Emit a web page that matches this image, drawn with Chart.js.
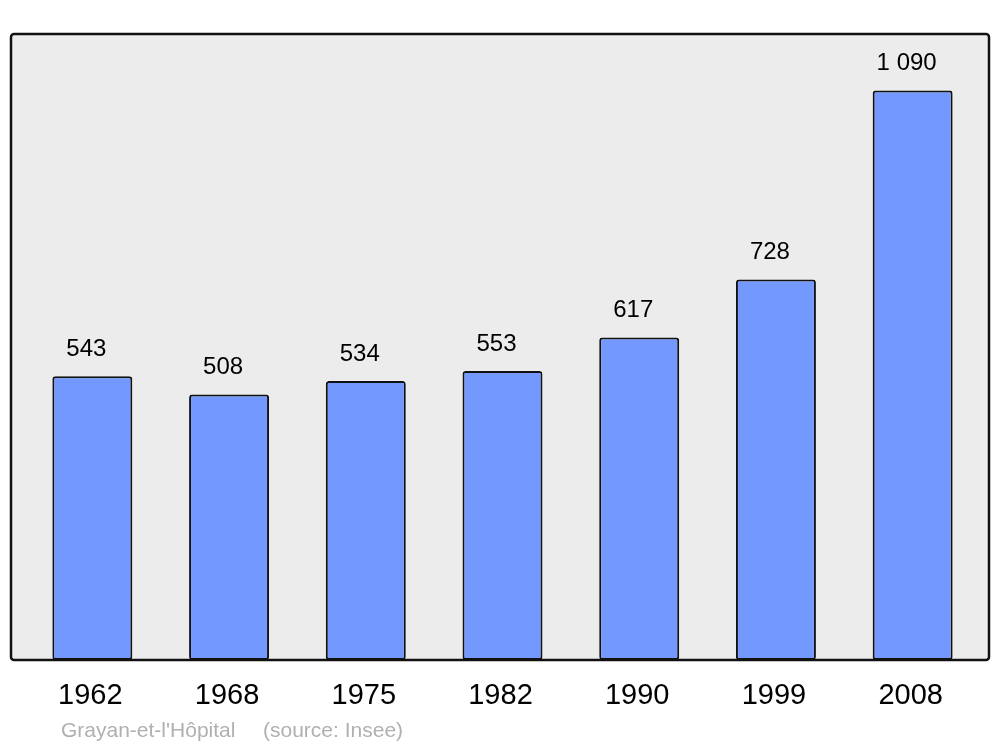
<!DOCTYPE html>
<html>
<head>
<meta charset="utf-8">
<script src="https://cdn.jsdelivr.net/npm/chart.js@4"></script>
<style>
  body { margin: 0; background: #fff; }
  #wrap { width: 1000px; height: 747px; }
</style>
</head>
<body>
<div id="wrap"><canvas id="popChart" width="1000" height="747"></canvas></div>
<script>
let years = ['1962', '1968', '1975', '1982', '1990', '1999', '2008'];
let population = [543, 508, 534, 553, 617, 728, 1090];
let commune = "Grayan-et-l'Hôpital";
let source = '(source: Insee)';

function fmt(v) {
  return String(v).replace(/\B(?=(\d{3})+(?!\d))/g, ' ');
}

// grey box behind the bars, labels under and over them
let decor = {
  id: 'decor',
  beforeDatasetsDraw(chart) {
    let c = chart.ctx;
    c.save();
    c.beginPath();
    c.roundRect(11, 34, 978, 626, 3);
    c.fillStyle = '#ececec';
    c.fill();
    c.restore();
  },
  afterDatasetsDraw(chart) {
    let c = chart.ctx;
    let meta = chart.getDatasetMeta(0);
    c.save();
    c.beginPath();
    c.roundRect(11, 34, 978, 626, 3);
    c.lineWidth = 2.5;
    c.strokeStyle = '#111';
    c.stroke();

    c.textAlign = 'center';
    c.textBaseline = 'middle';
    c.fillStyle = '#000';
    meta.data.forEach((bar, i) => {
      c.font = '24px "Liberation Sans", Arial, sans-serif';
      c.fillText(fmt(population[i]), bar.x - 6, bar.y - 27);
      c.font = '29px "Liberation Sans", Arial, sans-serif';
      c.fillText(years[i], bar.x - 2, 696);
    });

    c.textAlign = 'left';
    c.font = '21px "Liberation Sans", Arial, sans-serif';
    c.fillStyle = '#b0b0b0';
    c.fillText(commune, 61, 731);
    c.fillText(source, 263, 731);
    c.restore();
  }
};

let ctx = document.getElementById('popChart').getContext('2d');
let myChart = new Chart(ctx, {
  type: 'bar',
  data: {
    labels: years,
    datasets: [{
      data: population,
      backgroundColor: '#7399ff',
      borderColor: '#111',
      borderWidth: 2,
      borderRadius: 3,
      borderSkipped: false,
      barPercentage: 0.585,
      categoryPercentage: 1
    }]
  },
  options: {
    responsive: false,
    animation: false,
    layout: { padding: { left: 24, right: 19, top: 34, bottom: 87 } },
    scales: {
      x: { display: false },
      y: { display: false, min: 0, max: 1198 }
    },
    plugins: {
      legend: { display: false },
      tooltip: { enabled: false }
    }
  },
  plugins: [decor]
});
</script>
</body>
</html>
